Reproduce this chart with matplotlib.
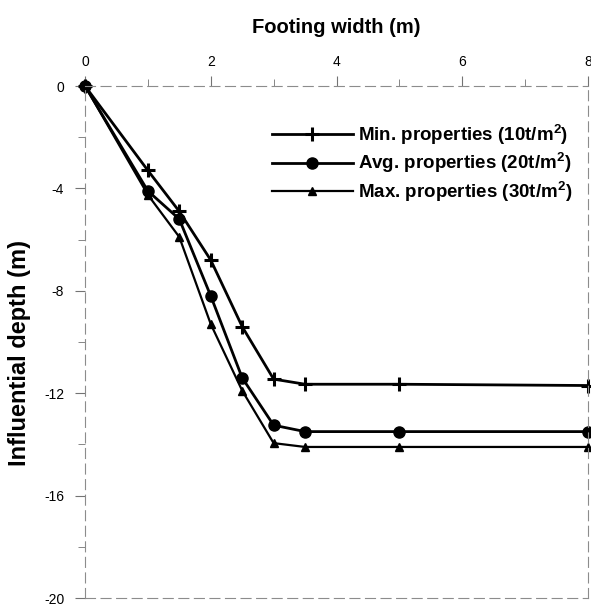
import matplotlib
matplotlib.use('Agg')
import matplotlib.pyplot as plt

# Footing width (m) and influential depth (m)
width = [0, 1, 1.5, 2, 2.5, 3, 3.5, 5, 8]
depth_min = [0, -3.3, -4.9, -6.8, -9.4, -11.45, -11.65, -11.65, -11.7]
depth_avg = [0, -4.1, -5.2, -8.2, -11.4, -13.25, -13.5, -13.5, -13.5]
depth_max = [0, -4.25, -5.9, -9.3, -11.9, -13.95, -14.1, -14.1, -14.1]

labels = [r'Min. properties (10t/m$^{\mathbf{2}}$)',
          r'Avg. properties (20t/m$^{\mathbf{2}}$)',
          r'Max. properties (30t/m$^{\mathbf{2}}$)']
x_ticks = [0, 2, 4, 6, 8]
y_ticks = [0, -4, -8, -12, -16, -20]

plt.rcParams['font.family'] = ['Liberation Sans', 'DejaVu Sans']
plt.rcParams['axes.unicode_minus'] = False
plt.rcParams['mathtext.fontset'] = 'custom'
plt.rcParams['mathtext.bf'] = 'Liberation Sans:bold'
plt.rcParams['mathtext.rm'] = 'Liberation Sans:bold'

fig = plt.figure(figsize=(5.91, 6.07), dpi=100)
ax = fig.add_axes([85 / 591, 1 - 598 / 607, 503 / 591, 512 / 607])

ax.plot(width, depth_min, 'k-', marker='+', markersize=10, mew=2.2, linewidth=2, label=labels[0])
ax.plot(width, depth_avg, 'k-', marker='o', markersize=8, linewidth=2, label=labels[1])
ax.plot(width, depth_max, 'k-', marker='^', markersize=6, linewidth=1.6, label=labels[2])

ax.set_xlim(0, 8)
ax.set_ylim(-20, 0)
for line in ax.get_lines():
    line.set_clip_on(False)

ax.xaxis.tick_top()
ax.xaxis.set_label_position('top')
ax.set_xticks(x_ticks)
ax.set_xticks([1, 3, 5, 7], minor=True)
ax.set_yticks(y_ticks)
ax.set_yticks([-2, -6, -10, -14, -18], minor=True)
ax.tick_params(which='both', direction='out', color='0.45', labelsize=10)
ax.tick_params(axis='x', pad=5)
ax.tick_params(axis='y', pad=8)
ax.tick_params(which='major', length=7, width=0.8)
ax.tick_params(which='minor', length=5, width=0.6)

for side in ['top', 'bottom', 'left', 'right']:
    ax.spines[side].set_color('0.55')
    ax.spines[side].set_linewidth(0.8)
    ax.spines[side].set_linestyle((0, (9, 5)))

ax.set_xlabel('Footing width (m)', fontsize=14.5, fontweight='bold', labelpad=16)
ax.set_ylabel('Influential depth (m)', fontsize=17, fontweight='bold')
ax.yaxis.set_label_coords(-0.108, 0.478)

ax.legend(loc='upper left', bbox_to_anchor=(272 / 591, 1 - 122 / 607),
          bbox_transform=fig.transFigure, frameon=False,
          handlelength=4.3, handletextpad=0.3, labelspacing=0.2,
          borderpad=0, borderaxespad=0, prop={'weight': 'bold', 'size': 13.5})

fig.savefig('out.png', dpi=100)
